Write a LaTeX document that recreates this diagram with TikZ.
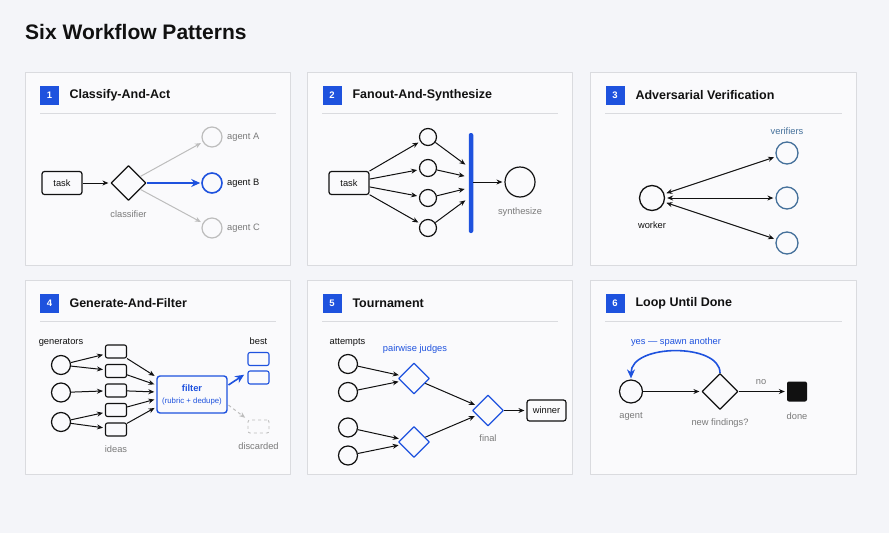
\documentclass[tikz,border=0pt]{standalone}
\usepackage{fontspec}
\setmainfont{Liberation Sans}
\usetikzlibrary{positioning,arrows.meta,shapes.geometric,calc}
\definecolor{pageBg}{HTML}{F4F5F9}
\definecolor{panelBg}{HTML}{FAFAFC}
\definecolor{panelLine}{HTML}{DADBDF}
\definecolor{accent}{HTML}{1E52DE}
\definecolor{steel}{HTML}{44709A}
\definecolor{muted}{HTML}{7A7A7A}
\definecolor{faint}{HTML}{BDBDBD}
\definecolor{ink}{HTML}{111111}

\begin{document}
\begin{tikzpicture}[
  x=1pt, y=-1pt, >={Stealth[length=6pt,width=5pt]}, line join=round,
  font=\fontsize{9.3}{11}\selectfont, color=ink,
  panel/.style={draw=panelLine, fill=panelBg, line width=0.8pt},
  badge/.style={fill=accent, text=white, minimum size=19pt, inner sep=0pt,
                font=\fontsize{9.5}{10}\selectfont\bfseries},
  ptitle/.style={anchor=west, font=\fontsize{12.5}{14}\selectfont\bfseries},
  rule/.style={draw=panelLine, line width=0.8pt},
  taskBox/.style={draw, rounded corners=2.5pt, line width=1.2pt,
                  minimum width=40pt, minimum height=23pt, inner sep=0pt},
  ideaBox/.style={draw, rounded corners=2pt, line width=1.1pt,
                  minimum width=21pt, minimum height=13pt, inner sep=0pt},
  dot/.style={draw, circle, line width=1.2pt, minimum size=#1, inner sep=0pt},
  dot/.default=19pt,
  dec/.style={draw, diamond, line width=1.2pt, minimum size=#1, inner sep=0pt},
  dec/.default=35pt,
  lbl/.style={inner sep=0pt, text=muted},
  arr/.style={->, line width=1pt, shorten >=2pt},
  bigArr/.style={-{Stealth[length=9pt,width=8pt]}, line width=1.6pt, draw=accent},
]
\useasboundingbox[fill=pageBg] (0,0) rectangle (889,533);
\node[anchor=west, inner sep=0pt, font=\fontsize{21}{24}\selectfont\bfseries] (title) at (25,32) {Six Workflow Patterns};

% panel frames
\draw[panel] (25,72) rectangle (290,265);
\draw[panel] (307,72) rectangle (572,265);
\draw[panel] (590,72) rectangle (856,265);
\draw[panel] (25,280) rectangle (290,474);
\draw[panel] (307,280) rectangle (572,474);
\draw[panel] (590,280) rectangle (856,474);

\node[badge] (n1) at (49.5,95.5) {1};
\node[ptitle] (t1) at (66,95.5) {Classify-And-Act};
\draw[rule] (40,113) -- (276,113);
\node[badge] (n2) at (332,95.5) {2};
\node[ptitle] (t2) at (349,95.5) {Fanout-And-Synthesize};
\draw[rule] (322,113) -- (558,113);
\node[badge] (n3) at (615,95.5) {3};
\node[ptitle] (t3) at (632,95.5) {Adversarial Verification};
\draw[rule] (605,113) -- (842,113);
\node[badge] (n4) at (49.5,303.5) {4};
\node[ptitle] (t4) at (66,303.5) {Generate-And-Filter};
\draw[rule] (40,321) -- (276,321);
\node[badge] (n5) at (332,303.5) {5};
\node[ptitle] (t5) at (349,303.5) {Tournament};
\draw[rule] (322,321) -- (558,321);
\node[badge] (n6) at (615,303.5) {6};
\node[ptitle] (t6) at (632,303.5) {Loop Until Done};
\draw[rule] (605,321) -- (842,321);

% 1 classify and act
\node[taskBox] (task1) at (62,183) {task};
\node[dec] (cls) at (128.5,183) {};
\node[lbl] at (128.5,214) {classifier};
\node[dot=20pt, draw=faint] (agA) at (212,137) {};
\node[dot=20pt, draw=accent, line width=1.6pt] (agB) at (212,183) {};
\node[dot=20pt, draw=faint] (agC) at (212,228) {};
\node[lbl, anchor=west] at (227,137) {agent A};
\node[lbl, anchor=west, text=ink] at (227,183) {agent B};
\node[lbl, anchor=west] at (227,228) {agent C};
\draw[arr] (task1) -- (cls);
\draw[arr, draw=faint] (cls) -- (agA);
\draw[bigArr, shorten >=1pt] (cls) -- (agB);
\draw[arr, draw=faint] (cls) -- (agC);

% 2 fanout and synthesize
\node[taskBox] (task2) at (349,183) {task};
\node[dot=17pt] (f1) at (428,137) {};
\node[dot=17pt] (f2) at (428,168) {};
\node[dot=17pt] (f3) at (428,198) {};
\node[dot=17pt] (f4) at (428,228) {};
\node[fill=accent, rounded corners=2pt, minimum width=4.5pt, minimum height=100pt, inner sep=0pt] (bar) at (471,183) {};
\node[dot=30pt] (syn) at (520,182) {};
\node[lbl] at (520,212) {synthesize};
\draw[arr] (task2) -- (f1);
\draw[arr] (task2) -- (f2);
\draw[arr] (task2) -- (f3);
\draw[arr] (task2) -- (f4);
\draw[arr, shorten >=4pt] (f1) -- ([yshift=16pt]bar.west);
\draw[arr, shorten >=4pt] (f2) -- ([yshift=6pt]bar.west);
\draw[arr, shorten >=4pt] (f3) -- ([yshift=-5pt]bar.west);
\draw[arr, shorten >=4pt] (f4) -- ([yshift=-15pt]bar.west);
\draw[arr] (bar.east |- syn) -- (syn);

% 3 adversarial verification
\node[dot=25pt, line width=1.3pt] (worker) at (652,198) {};
\node[lbl, text=ink] at (652,225) {worker};
\node[dot=22pt, draw=steel, line width=1.3pt] (v1) at (787,153) {};
\node[dot=22pt, draw=steel, line width=1.3pt] (v2) at (787,198) {};
\node[dot=22pt, draw=steel, line width=1.3pt] (v3) at (787,243) {};
\node[lbl, text=steel] at (787,131) {verifiers};
\draw[arr, <->, shorten <=2pt] (worker) -- (v1);
\draw[arr, <->, shorten <=2pt] (worker) -- (v2);
\draw[arr, <->, shorten <=2pt] (worker) -- (v3);

% 4 generate and filter
\node[lbl, text=ink] at (61,342) {generators};
\node[dot=19pt] (g1) at (61,365) {};
\node[dot=19pt] (g2) at (61,392.5) {};
\node[dot=19pt] (g3) at (61,422) {};
\node[ideaBox] (i1) at (116,351.5) {};
\node[ideaBox] (i2) at (116,371) {};
\node[ideaBox] (i3) at (116,390.5) {};
\node[ideaBox] (i4) at (116,410) {};
\node[ideaBox] (i5) at (116,429.5) {};
\node[lbl] at (116,449) {ideas};
\node[draw=accent, line width=1.4pt, rounded corners=3pt, minimum width=70pt, minimum height=37pt,
      inner sep=0pt, align=center, text=accent] (filter) at (192,394.5)
      {\textbf{filter}\\[1pt]{\fontsize{7.8}{9}\selectfont(rubric + dedupe)}};
\node[ideaBox, draw=accent] (b1) at (258.5,359) {};
\node[ideaBox, draw=accent] (b2) at (258.5,377.5) {};
\node[lbl, text=ink] at (258.5,341) {best};
\node[ideaBox, draw=faint, dashed, line width=0.9pt] (disc) at (258.5,426.5) {};
\node[lbl] at (258.5,446) {discarded};
\draw[arr] (g1) -- (i1);
\draw[arr] (g1) -- (i2);
\draw[arr] (g2) -- (i3);
\draw[arr] (g3) -- (i4);
\draw[arr] (g3) -- (i5);
\draw[arr] (i1) -- ([yshift=17.5pt]filter.west);
\draw[arr] (i2) -- ([yshift=9.5pt]filter.west);
\draw[arr] (i3) -- ([yshift=2.5pt]filter.west);
\draw[arr] (i4) -- ([yshift=-4.5pt]filter.west);
\draw[arr] (i5) -- ([yshift=-12.5pt]filter.west);
\draw[bigArr, shorten <=1pt, shorten >=4pt] ([yshift=9pt]filter.east) -- ([yshift=5pt]b2.west);
\draw[arr, draw=faint, dashed, shorten <=1pt, shorten >=3pt] ([yshift=-10pt]filter.east) -- (disc.north west);

% 5 tournament
\node[lbl, text=ink] at (347.5,342) {attempts};
\node[dot=19pt] (a1) at (348,364) {};
\node[dot=19pt] (a2) at (348,392) {};
\node[dot=19pt] (a3) at (348,427.5) {};
\node[dot=19pt] (a4) at (348,455.5) {};
\node[dec=31pt, draw=accent, line width=1.3pt] (j1) at (414,378.5) {};
\node[dec=31pt, draw=accent, line width=1.3pt] (j2) at (414,442) {};
\node[lbl, text=accent] at (415,349) {pairwise judges};
\node[dec=31pt, draw=accent, line width=1.3pt] (fin) at (488,410.5) {};
\node[lbl] at (488,438.5) {final};
\node[taskBox, minimum width=39pt, minimum height=21pt] (win) at (546.5,410.5) {winner};
\draw[arr] (a1) -- (j1);
\draw[arr] (a2) -- (j1);
\draw[arr] (a3) -- (j2);
\draw[arr] (a4) -- (j2);
\draw[arr] (j1) -- (fin);
\draw[arr] (j2) -- (fin);
\draw[arr] (fin) -- (win);

% 6 loop until done
\node[dot=23pt] (agent) at (631,391.5) {};
\node[lbl] at (631,416) {agent};
\node[dec=36pt] (more) at (720,391.5) {};
\node[lbl] at (720,423.5) {new findings?};
\node[fill=ink, rounded corners=2pt, minimum size=20pt, inner sep=0pt] (done) at (797,391.5) {};
\node[lbl] at (797,416) {done};
\node[lbl] at (761,382) {no};
\node[lbl, text=accent] at (676,342) {yes — spawn another};
\draw[arr] (agent) -- (more);
\draw[arr] (more) -- (done);
\draw[bigArr, shorten >=1pt] (more.north) .. controls +(0,-30) and +(0,-36) .. (agent.north);
\end{tikzpicture}
\end{document}
